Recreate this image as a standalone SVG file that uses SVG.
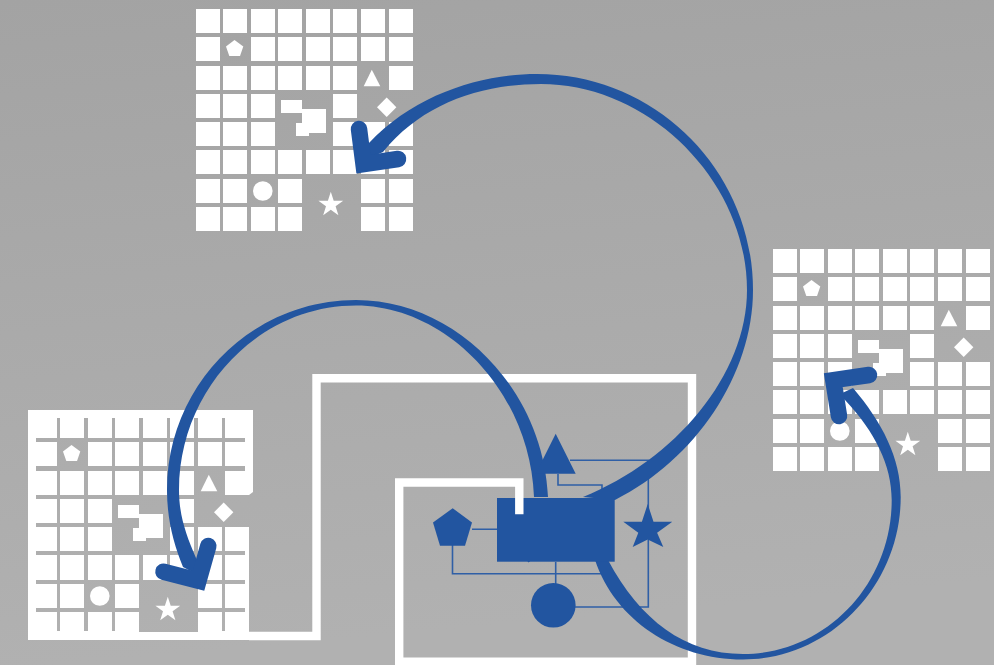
<svg xmlns="http://www.w3.org/2000/svg" width="994" height="665" viewBox="0 0 994 665">
<style>
.w{fill:#fff}
.b{fill:#2255a0}
.gap{fill:url(#bg)}
.head{fill:none;stroke:#2255a0;stroke-width:16.5;stroke-linecap:round;stroke-linejoin:miter;stroke-miterlimit:10}
.wire{fill:none;stroke:#2f5fa6;stroke-width:1.6}
.frame{fill:none;stroke:#fff;stroke-width:8.4;stroke-linejoin:miter}
</style>
<defs>
<linearGradient id="bg" gradientUnits="userSpaceOnUse" x1="0" y1="0" x2="60" y2="665">
<stop offset="0" stop-color="#a3a3a3"/><stop offset="1" stop-color="#b1b1b1"/>
</linearGradient>
<g id="glyphs" class="w">
<polygon points="234.5,40 243.3,46.5 240,56 229.3,56 226,46.5"/>
<polygon points="371.8,69.7 380.3,86.3 363.7,86.3"/>
<polygon points="386.7,97.6 396.4,107.3 386.7,117 377,107.3"/>
<rect x="281" y="100" width="21" height="13"/>
<rect x="302" y="109" width="24" height="24"/>
<rect x="296" y="123" width="13" height="13"/>
<circle cx="262.8" cy="191" r="9.8"/>
<polygon points="330.8,191.7 333.7,200.7 343.2,200.7 335.6,206.2 338.4,215.2 330.8,209.7 323.2,215.2 326,206.2 318.4,200.7 327.9,200.7"/>
</g>
<path id="cells" class="w" d="M196 9h24v24h-24zM223 9h24v24h-24zM251 9h24v24h-24zM278 9h24v24h-24zM306 9h24v24h-24zM333 9h24v24h-24zM361 9h24v24h-24zM389 9h24v24h-24zM196 37h24v24h-24zM251 37h24v24h-24zM278 37h24v24h-24zM306 37h24v24h-24zM333 37h24v24h-24zM361 37h24v24h-24zM389 37h24v24h-24zM196 66h24v24h-24zM223 66h24v24h-24zM251 66h24v24h-24zM278 66h24v24h-24zM306 66h24v24h-24zM333 66h24v24h-24zM389 66h24v24h-24zM196 94h24v24h-24zM223 94h24v24h-24zM251 94h24v24h-24zM333 94h24v24h-24zM196 122h24v24h-24zM223 122h24v24h-24zM251 122h24v24h-24zM333 122h24v24h-24zM361 122h24v24h-24zM389 122h24v24h-24zM196 150h24v24h-24zM223 150h24v24h-24zM251 150h24v24h-24zM278 150h24v24h-24zM306 150h24v24h-24zM333 150h24v24h-24zM361 150h24v24h-24zM389 150h24v24h-24zM196 179h24v24h-24zM223 179h24v24h-24zM278 179h24v24h-24zM361 179h24v24h-24zM389 179h24v24h-24zM196 207h24v24h-24zM223 207h24v24h-24zM251 207h24v24h-24zM278 207h24v24h-24zM361 207h24v24h-24zM389 207h24v24h-24z"/>
</defs>
<rect width="994" height="665" fill="url(#bg)"/>

<g id="grid-top">
<use href="#cells"/><use href="#glyphs"/>
</g>
<g id="grid-right" transform="translate(577 240)">
<use href="#cells"/><use href="#glyphs"/>
</g>
<g id="grid-left">
<polygon class="w" points="28,410 253,410 253,492 249,495 249,640 28,640"/>
<path class="gap" d="M57 418h3v213h-3zM84 418h4v213h-4zM112 418h3v213h-3zM139 418h4v213h-4zM167 418h3v213h-3zM194 418h4v213h-4zM222 418h3v213h-3zM36 438h209v4h-209zM36 466h209v5h-209zM36 495h209v4h-209zM36 523h209v4h-209zM36 551h209v4h-209zM36 580h209v4h-209zM36 608h209v4h-209z"/>
<path class="gap" d="M60 442h24v24h-24zM198 471h24v24h-24zM194 495h56v32h-56zM112 495h58v60h-58zM139 580h59v52h-59zM88 584h24v24h-24z"/>
<use href="#glyphs" transform="translate(-163 405)"/>
</g>

<g id="frame">
<path class="frame" d="M249 636H316.5V378.3H692V665"/>
</g>

<g id="connectors">
<path class="wire" d="M472 529.3H497M452.5 545V573.7H606M555.7 562V584M575 607H648.3V460.3H570M558 474V485H602V499"/>
<path id="arrow-top" class="b" d="M615 500C695 460 753 375 753 290C753 171 656 74 537 74C482 74 415 94 369 143L365 160L383 152C422 104 480 84 541 84C650 84 747 182 747 290C747 375 675 460 583 497Z"/>
<path class="head" d="M359 129L363.5 164.2L398 159"/>
<path id="arrow-right" class="b" d="M595 560C615 620 675 659.500 743 659.500C830 659.500 900.700 585 900.700 497C900.700 458 882 422 853 388L838 395L845 400C875 432 891.700 465 891.700 500C891.700 585 825 654 743 654C685 654 640 620 608 560Z"/>
<path class="head" d="M869 375L833.3 380.2L839 416"/>
<path id="arrow-left" class="b" d="M548 497C543 388 455 300 356 300C252 300 167 385 167 490C167 520 174 545 183 567L198 575L196 558C186 535 179 515 179 490C179 390 258 305.500 356 305.500C445 305.500 530 390 534 497Z"/>
<path class="head" d="M208.3 546L198.5 580.7L163.5 571.7"/>
</g>

<g id="node-triangle"><polygon class="b" points="555.7,433.7 575.7,473.7 535.7,473.7"/></g>
<g id="node-diamond"><polygon class="b" points="528.7,527.600 546.7,545 528.7,562.600 510.7,545"/></g>
<g id="node-block"><rect class="b" x="497" y="498" width="117.7" height="63.7"/></g>
<g id="node-pentagon"><polygon class="b" points="452.7,508.3 472,522.5 465,545.7 440,545.7 433,522.5"/></g>
<g id="node-star"><polygon class="b" points="647.7,504 653.5,521.7 672.3,521.7 657.1,532.7 663.3,547 647.7,539.6 632.7,547 638.3,532.7 623.3,521.7 641.9,521.7"/></g>
<g id="node-circle"><circle class="b" cx="553.3" cy="605.3" r="22.3"/></g>
<g id="frame-inner">
<path class="frame" d="M519.3 514.3V482.5H399.2V661.8H692"/>
</g>
</svg>
